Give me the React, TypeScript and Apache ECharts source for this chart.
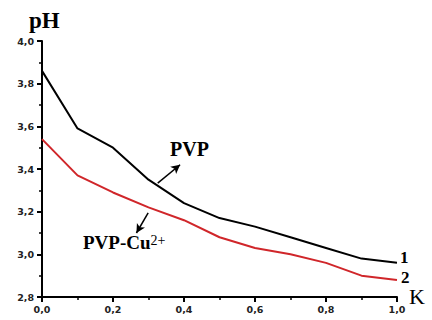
import React, { useEffect, useRef } from "react";
import * as echarts from "echarts";

const kValues = [0, 0.1, 0.2, 0.3, 0.4, 0.5, 0.6, 0.7, 0.8, 0.9, 1.0];
const pvpValues = [3.86, 3.59, 3.5, 3.35, 3.24, 3.17, 3.13, 3.08, 3.03, 2.98, 2.96];
const pvpCuValues = [3.54, 3.37, 3.29, 3.22, 3.16, 3.08, 3.03, 3.0, 2.96, 2.9, 2.88];
const pvpArrow = [[0.326, 3.334], [0.389, 3.42]];
const cuArrow = [[0.299, 3.194], [0.266, 3.1]];

const fmt = (v: number) => v.toFixed(1).replace(".", ",");

export default function App() {
  const ref = useRef<HTMLDivElement>(null);
  useEffect(() => {
    const chart = echarts.init(ref.current!, null, { renderer: "svg" });
    const axisCommon = {
      axisLine: { show: true, onZero: false, lineStyle: { color: "#000", width: 2 } },
      axisTick: { show: true, inside: false, length: 5, lineStyle: { color: "#000", width: 2 } },
      minorTick: { show: true, splitNumber: 2, length: 3, lineStyle: { color: "#000", width: 1.5 } },
      splitLine: { show: false },
      axisLabel: {
        color: "#222",
        fontFamily: "DejaVu Sans",
        fontWeight: "bold",
        fontSize: 9.5,
        formatter: (v: number) => fmt(v),
      },
    };
    chart.setOption({
      animation: false,
      backgroundColor: "#fff",
      grid: { left: 42, right: 35, top: 41, bottom: 23 },
      xAxis: {
        type: "value",
        min: 0,
        max: 1,
        interval: 0.2,
        ...axisCommon,
        axisLabel: { ...axisCommon.axisLabel, margin: 7 },
      },
      yAxis: {
        type: "value",
        min: 2.8,
        max: 4.0,
        interval: 0.2,
        ...axisCommon,
        axisLabel: { ...axisCommon.axisLabel, margin: 8 },
      },
      graphic: [
        {
          type: "text",
          left: 29,
          top: 9,
          style: { text: "pH", font: "bold 23px 'Liberation Serif'", fill: "#000" },
        },
        {
          type: "text",
          left: 409,
          top: 285,
          style: { text: "K", font: "22px 'Liberation Serif'", fill: "#000" },
        },
        {
          type: "text",
          left: 400,
          top: 249,
          style: { text: "1", font: "bold 17px 'Liberation Serif'", fill: "#000" },
        },
        {
          type: "text",
          left: 401,
          top: 269,
          style: { text: "2", font: "bold 17px 'Liberation Serif'", fill: "#000" },
        },
        {
          type: "text",
          left: 170,
          top: 139,
          style: { text: "PVP", font: "bold 20px 'Liberation Serif'", fill: "#000" },
        },
        {
          type: "text",
          left: 83,
          top: 233,
          style: {
            fill: "#000",
            text: "{a|PVP-Cu}{b|2+}",
            rich: {
              a: { fontFamily: "Liberation Serif", fontWeight: "bold", fontSize: 19, fill: "#000", color: "#000" },
              b: { fontFamily: "Liberation Serif", fontSize: 14, fill: "#000", color: "#000", verticalAlign: "top", lineHeight: 12 },
            },
          },
        },
      ],
      series: [
        {
          name: "PVP",
          type: "line",
          data: kValues.map((k, i) => [k, pvpValues[i]]),
          showSymbol: false,
          lineStyle: { color: "#000", width: 2 },
          markLine: {
            silent: true,
            symbol: ["none", "arrow"],
            symbolSize: [7, 9],
            label: { show: false },
            lineStyle: { color: "#000", width: 1.5, type: "solid" },
            data: [
              [{ coord: pvpArrow[0] }, { coord: pvpArrow[1] }],
              [{ coord: cuArrow[0] }, { coord: cuArrow[1] }],
            ],
          },
        },
        {
          name: "PVP-Cu2+",
          type: "line",
          data: kValues.map((k, i) => [k, pvpCuValues[i]]),
          showSymbol: false,
          lineStyle: { color: "#d0262a", width: 2 },
        },
      ],
    });
    return () => chart.dispose();
  }, []);
  return <div ref={ref} style={{ width: 432, height: 320, position: "absolute", left: 0, top: 0 }} />;
}
